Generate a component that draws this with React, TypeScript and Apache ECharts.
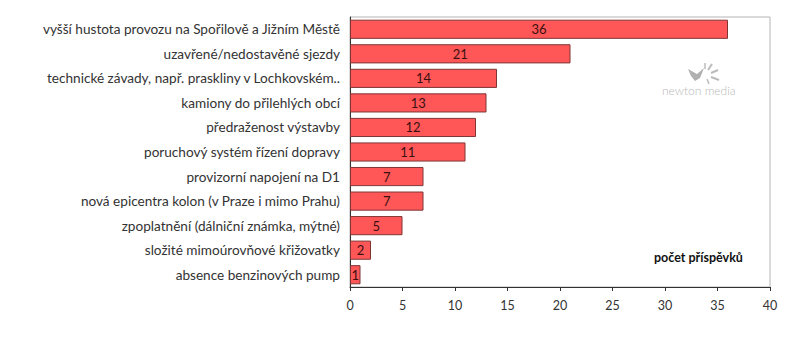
import React, { useEffect, useRef } from "react";
import * as echarts from "echarts";

const categories = [
  "vyšší hustota provozu na Spořilově a Jižním Městě",
  "uzavřené/nedostavěné sjezdy",
  "technické závady, např. praskliny v Lochkovském..",
  "kamiony do přilehlých obcí",
  "předraženost výstavby",
  "poruchový systém řízení dopravy",
  "provizorní napojení na D1",
  "nová epicentra kolon (v Praze i mimo Prahu)",
  "zpoplatnění (dálniční známka, mýtné)",
  "složité mimoúrovňové křižovatky",
  "absence benzinových pump",
];
const values = [36, 21, 14, 13, 12, 11, 7, 7, 5, 2, 1];
const axisTitle = "počet příspěvků";
const watermark = "newton media";

const FONT = "Lato, 'Open Sans', sans-serif";
const OX = 8;
const OY = 8;

export default function App() {
  const ref = useRef<HTMLDivElement>(null);
  useEffect(() => {
    if (!ref.current) return;
    const chart = echarts.init(ref.current, undefined, { renderer: "svg" });
    chart.setOption({
      animation: false,
      backgroundColor: "#ffffff",
      textStyle: { fontFamily: FONT },
      grid: {
        left: 350 - OX,
        right: 38,
        top: 17 - OY,
        bottom: 78,
        show: true,
        borderColor: "#b4b4b4",
        borderWidth: 1,
        containLabel: false,
      },
      xAxis: {
        type: "value",
        min: 0,
        max: 40,
        interval: 5,
        splitLine: { show: false },
        axisLine: { show: true, lineStyle: { color: "#333333", width: 1 } },
        axisTick: { show: true, length: 4, lineStyle: { color: "#333333" } },
        axisLabel: { color: "#333333", fontSize: 12.5, margin: 12, fontFamily: FONT },
      },
      yAxis: {
        type: "category",
        data: categories,
        inverse: true,
        axisLine: { show: true, lineStyle: { color: "#333333", width: 1 } },
        axisTick: { show: false },
        axisLabel: { color: "#333333", fontSize: 13.6, margin: 10, fontFamily: FONT },
      },
      series: [
        {
          type: "bar",
          data: values,
          barCategoryGap: "22%",
          itemStyle: { color: "#ff5757", borderColor: "#803535", borderWidth: 1 },
          label: {
            show: true,
            position: "inside",
            color: "#3a1010",
            fontSize: 13,
            fontFamily: FONT,
          },
        },
      ],
      graphic: [
        {
          type: "text",
          left: 654 - OX,
          top: 251 - OY,
          style: {
            text: axisTitle,
            fill: "#111111",
            font: `bold 12.5px ${FONT}`,
          },
        },
        {
          type: "text",
          left: 662 - OX,
          top: 84 - OY,
          style: {
            text: watermark,
            fill: "#b8b8b8",
            font: `300 12px ${FONT}`,
          },
        },
        {
          type: "polygon",
          shape: { points: [[688 - OX, 69 - OY], [697 - OX, 74 - OY], [704 - OX, 68 - OY], [700 - OX, 78 - OY], [695 - OX, 81 - OY], [691 - OX, 76 - OY]] },
          style: { fill: "#b0b0b0" },
        },
        { type: "line", shape: { x1: 708 - OX, y1: 70 - OY, x2: 712 - OX, y2: 64 - OY }, style: { stroke: "#bbbbbb", lineWidth: 2 } },
        { type: "line", shape: { x1: 711 - OX, y1: 73 - OY, x2: 718 - OX, y2: 70 - OY }, style: { stroke: "#bbbbbb", lineWidth: 2 } },
        { type: "line", shape: { x1: 711 - OX, y1: 77 - OY, x2: 719 - OX, y2: 80 - OY }, style: { stroke: "#bbbbbb", lineWidth: 2 } },
        { type: "line", shape: { x1: 705 - OX, y1: 69 - OY, x2: 705 - OX, y2: 63 - OY }, style: { stroke: "#bbbbbb", lineWidth: 1.5 } },
        { type: "line", shape: { x1: 707 - OX, y1: 79 - OY, x2: 709 - OX, y2: 84 - OY }, style: { stroke: "#bbbbbb", lineWidth: 1.5 } },
      ],
    });
    return () => chart.dispose();
  }, []);
  return <div ref={ref} style={{ width: 800, height: 357 }} />;
}
